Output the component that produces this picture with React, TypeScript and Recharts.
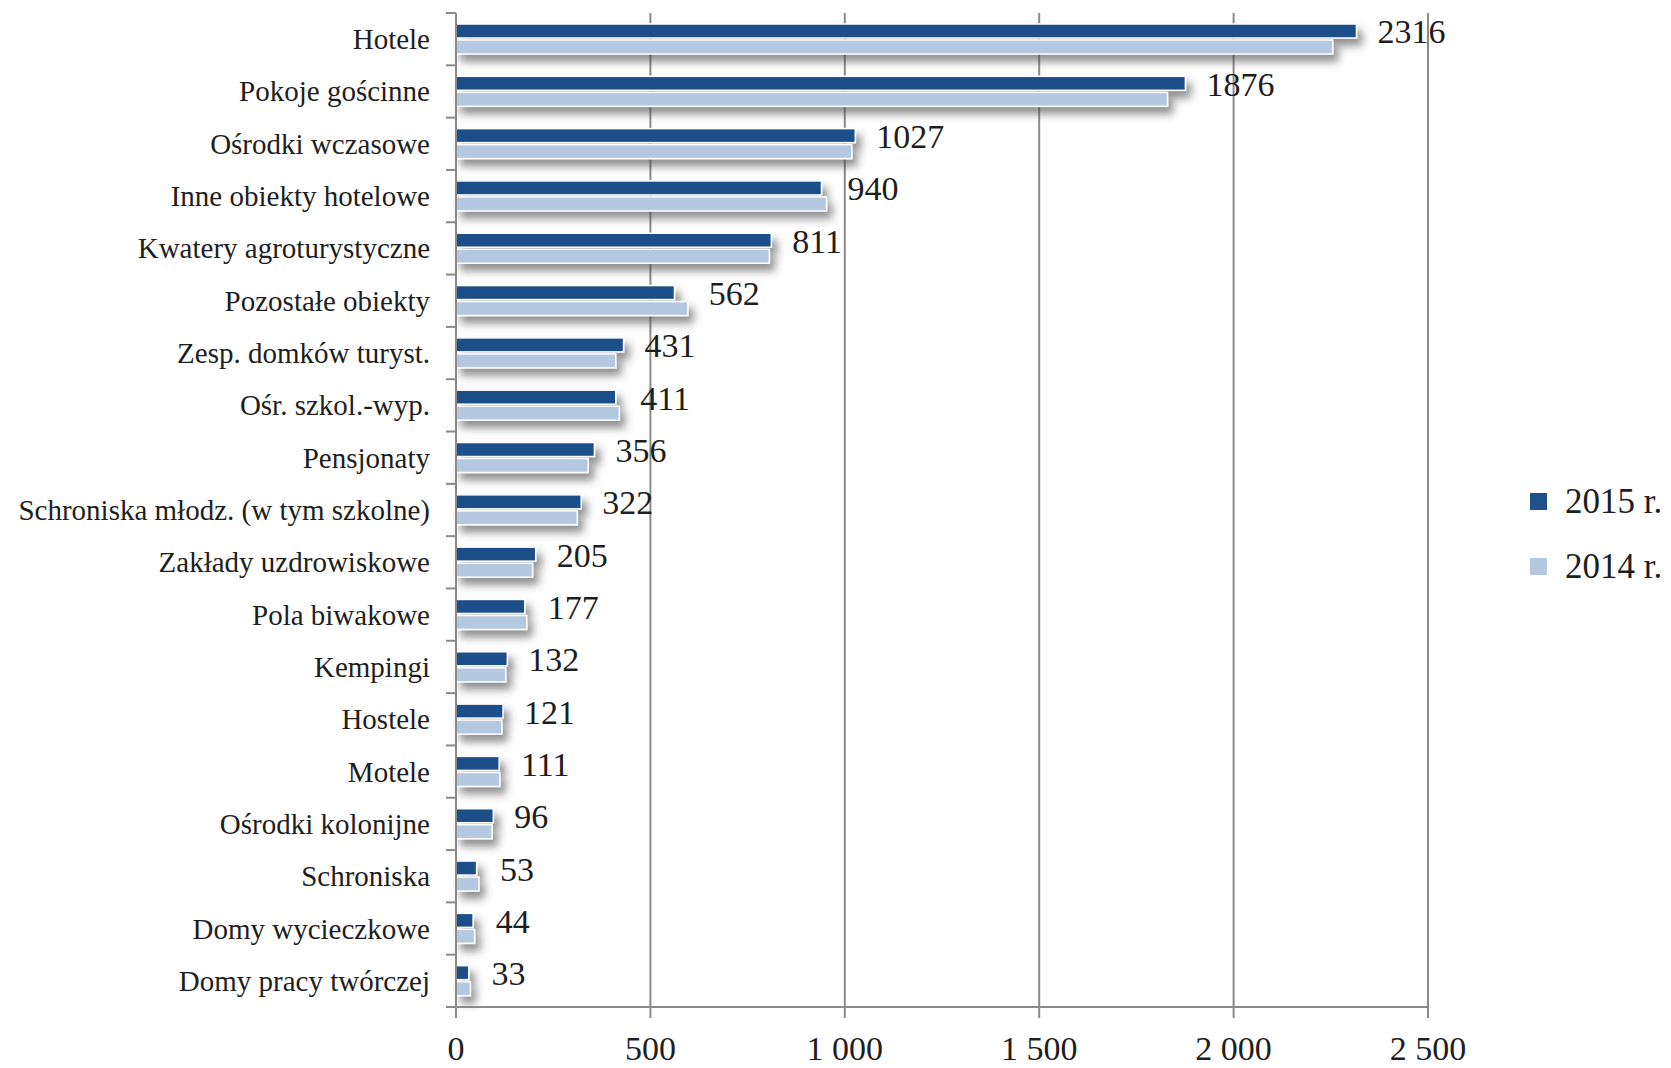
import React from 'react';
import { BarChart, Bar, XAxis, YAxis, CartesianGrid, Legend, LabelList } from 'recharts';

const categories = [
  'Hotele',
  'Pokoje gościnne',
  'Ośrodki wczasowe',
  'Inne obiekty hotelowe',
  'Kwatery agroturystyczne',
  'Pozostałe obiekty',
  'Zesp. domków turyst.',
  'Ośr. szkol.-wyp.',
  'Pensjonaty',
  'Schroniska młodz. (w tym szkolne)',
  'Zakłady uzdrowiskowe',
  'Pola biwakowe',
  'Kempingi',
  'Hostele',
  'Motele',
  'Ośrodki kolonijne',
  'Schroniska',
  'Domy wycieczkowe',
  'Domy pracy twórczej',
];
const values2015 = [2316, 1876, 1027, 940, 811, 562, 431, 411, 356, 322, 205, 177, 132, 121, 111, 96, 53, 44, 33];
const values2014 = [2255, 1830, 1018, 953, 806, 596, 411, 420, 340, 312, 197, 182, 128, 118, 113, 93, 59, 48, 37];
const xTicks = [0, 500, 1000, 1500, 2000, 2500];
const seriesNames = ['2015 r.', '2014 r.'];

const W = 1671;
const H = 1068;
const TOP = 13;
const XAXIS_H = 61;
const YAXIS_W = 456;
const RIGHT = 243;
const BAND = (H - TOP - XAXIS_H) / categories.length;
const Y_TICK_SIZE = 10;
const Y_TICK_MARGIN = 16;

const DARK = '#1f5089';
const LIGHT = '#b5c8e2';
const GRID = '#8a8a8a';
const TEXT = '#1e1e1e';
const FONT = '"Liberation Serif", "Times New Roman", serif';

const data = categories.map((name, i) => ({ name, v2015: values2015[i], v2014: values2014[i] }));

const fmt = (v: number) => (v >= 1000 ? `${Math.floor(v / 1000)} ${String(v % 1000).padStart(3, '0')}` : String(v));

const YTick = (props: any) => {
  const { x, y, payload, index } = props;
  const axisX = x + Y_TICK_SIZE + Y_TICK_MARGIN;
  const half = BAND / 2;
  return (
    <g>
      <line x1={axisX - Y_TICK_SIZE} x2={axisX} y1={y - half} y2={y - half} stroke={GRID} strokeWidth={2} />
      {index === categories.length - 1 && (
        <line x1={axisX - Y_TICK_SIZE} x2={axisX} y1={y + half} y2={y + half} stroke={GRID} strokeWidth={2} />
      )}
      <text x={x} y={y} textAnchor="end" dominantBaseline="central" fontSize={29} fill={TEXT} fontFamily={FONT}>
        {payload.value}
      </text>
    </g>
  );
};

const makeShape = (fill: string) => (props: any) => {
  const { x, y, width, height } = props;
  if (!width || width <= 0) return <g />;
  return (
    <rect
      x={x}
      y={y}
      width={width}
      height={height}
      fill={fill}
      stroke="#ffffff"
      strokeWidth={1.5}
      filter="url(#barShadow)"
    />
  );
};

const ValueLabel = (props: any) => {
  const { x, y, width, height, value, index } = props;
  const w14 = (Number(width) * values2014[index]) / values2015[index];
  const end = Number(x) + Math.max(Number(width), w14);
  return (
    <text x={end + 21} y={Number(y) + Number(height) / 2 + 1} dominantBaseline="central" fontSize={34} fill={TEXT} fontFamily={FONT}>
      {value}
    </text>
  );
};

const LegendContent = () => (
  <div style={{ fontFamily: FONT, color: TEXT }}>
    {[DARK, LIGHT].map((c, i) => (
      <div key={i} style={{ display: 'flex', alignItems: 'center', height: 65 }}>
        <div style={{ width: 17, height: 17, background: c, marginRight: 18 }} />
        <span style={{ fontSize: 35, whiteSpace: 'nowrap' }}>{seriesNames[i]}</span>
      </div>
    ))}
  </div>
);

export default function App() {
  return (
    <div style={{ position: 'absolute', left: 0, top: 0, width: W, height: H, background: '#fff' }}>
      <BarChart
        width={W}
        height={H}
        data={data}
        layout="vertical"
        margin={{ top: TOP, right: RIGHT, bottom: 0, left: 0 }}
        barCategoryGap="21%"
        barGap={2}
      >
        <defs>
          <filter id="barShadow" filterUnits="userSpaceOnUse" x="0" y="0" width={W} height={H}>
            <feDropShadow dx="5" dy="7" stdDeviation="4" floodColor="#444444" floodOpacity="0.6" />
          </filter>
        </defs>
        <CartesianGrid horizontal={false} vertical={true} stroke={GRID} strokeWidth={2} />
        <XAxis
          type="number"
          domain={[0, 2500]}
          ticks={xTicks}
          tickFormatter={fmt}
          height={XAXIS_H}
          axisLine={{ stroke: GRID, strokeWidth: 2 }}
          tickLine={{ stroke: GRID, strokeWidth: 2 }}
          tickSize={11}
          tickMargin={18}
          tick={{ fontSize: 34, fill: TEXT, fontFamily: FONT }}
          interval={0}
        />
        <YAxis
          type="category"
          dataKey="name"
          width={YAXIS_W}
          axisLine={{ stroke: GRID, strokeWidth: 2 }}
          tickLine={false}
          tickSize={Y_TICK_SIZE}
          tickMargin={Y_TICK_MARGIN}
          tick={<YTick />}
          interval={0}
        />
        <Legend
          layout="vertical"
          align="center"
          verticalAlign="middle"
          wrapperStyle={{ left: 1530, top: 469, width: 'auto' }}
          content={<LegendContent />}
        />
        <Bar dataKey="v2015" name={seriesNames[0]} fill={DARK} isAnimationActive={false} shape={makeShape(DARK)}>
          <LabelList dataKey="v2015" content={<ValueLabel />} />
        </Bar>
        <Bar dataKey="v2014" name={seriesNames[1]} fill={LIGHT} isAnimationActive={false} shape={makeShape(LIGHT)} />
      </BarChart>
    </div>
  );
}
